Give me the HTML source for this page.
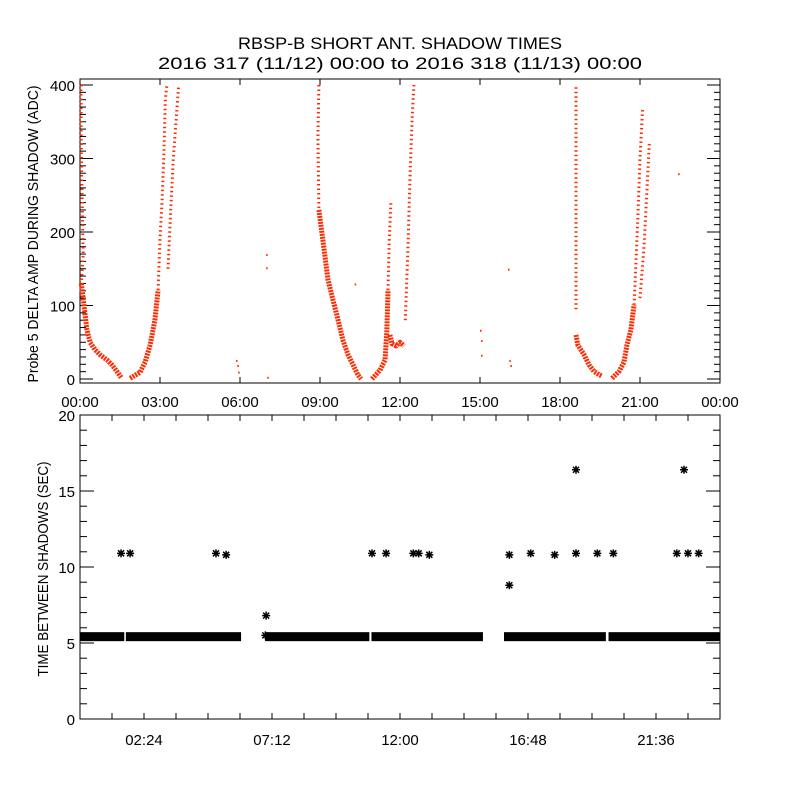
<!DOCTYPE html>
<html><head><meta charset="utf-8"><style>
body{margin:0;background:#fff;}
svg{display:block;font-family:"Liberation Sans",sans-serif;}
</style></head><body>
<svg id="c" width="800" height="800" viewBox="0 0 800 800">
<rect width="800" height="800" fill="#fff"/>
<text x="400" y="49" text-anchor="middle" font-size="17" textLength="324" lengthAdjust="spacingAndGlyphs">RBSP-B SHORT ANT. SHADOW TIMES</text>
<text x="400" y="69" text-anchor="middle" font-size="17" textLength="484" lengthAdjust="spacingAndGlyphs">2016 317 (11/12) 00:00 to 2016 318 (11/13) 00:00</text>
<g id="topPanel"></g>
<g id="botPanel"></g>
</svg>
<script>
// ---- top panel data (hour, ADC) ----
const topDense = [
 [[0.05,130],[0.15,100],[0.26,67],[0.38,50],[0.56,40],[0.75,33],[1.01,26],[1.2,19],[1.39,10],[1.54,2]],
 [[1.88,1],[2.25,9],[2.44,23],[2.63,46],[2.81,80],[2.93,121]],
 [[8.96,230],[9.11,189],[9.3,135],[9.49,107],[9.68,80],[9.86,53],[10.05,33],[10.24,19],[10.43,5],[10.54,0]],
 [[10.95,0],[11.25,12],[11.44,26],[11.51,67],[11.55,121]],
 [[11.62,60],[11.7,48],[11.85,45],[12.0,50],[12.15,45]],
 [[18.6,60],[18.67,46],[18.9,33],[19.09,19],[19.28,10],[19.46,6],[19.58,4]],
 [[19.95,1],[20.21,10],[20.4,23],[20.51,46],[20.66,67],[20.78,101]]
];
const topSparse = [
 [[0.04,400],[0.04,330],[0.08,250],[0.1,200],[0.12,170],[0.05,130]],
 [[2.93,121],[3.0,190],[3.08,243],[3.15,310],[3.2,380],[3.26,400]],
 [[3.3,150],[3.4,230],[3.5,300],[3.6,350],[3.7,400]],
 [[8.96,400],[8.92,330],[8.96,230]],
 [[11.55,121],[11.6,190],[11.66,240]],
 [[12.2,80],[12.3,180],[12.38,280],[12.45,350],[12.52,400]],
 [[20.78,101],[20.85,160],[20.93,230],[21.0,300],[21.1,370]],
 [[21.0,110],[21.15,180],[21.25,250],[21.35,320]],
 [[18.6,95],[18.6,200],[18.6,310],[18.6,400]]
];
const topDots = [[5.85,26],[5.9,19],[5.93,10],[6.98,170],[6.98,152],[7.02,3],[15.0,67],[15.04,53],[15.04,33],[16.05,150],[16.1,26],[16.14,19],[22.43,280],[10.3,130]];
// ---- bottom panel data ----
const bandValue = 5.45;
const bandStarts = [0.0, 1.72, 6.94, 10.93, 15.9, 19.82];
const bandEnds   = [1.66, 6.04, 10.85, 15.11, 19.72, 24.0];
const starHours  = [1.54,1.88,5.1,5.48,6.98,10.95,11.48,12.5,12.7,13.1,16.1,16.1,16.9,17.8,18.6,18.6,19.4,20.0,22.38,22.65,22.8,23.2,6.95];
const starValues = [10.9,10.9,10.9,10.8,6.8,10.9,10.9,10.9,10.9,10.8,10.8,8.8,10.9,10.8,10.9,16.4,10.9,10.9,10.9,16.4,10.9,10.9,5.5];
const topYTicks = [0,100,200,300,400];
const topXLabels = ["00:00","03:00","06:00","09:00","12:00","15:00","18:00","21:00","00:00"];
const botYTicks = [0,5,10,15,20];
const botXLabels = ["02:24","07:12","12:00","16:48","21:36"];

const NS="http://www.w3.org/2000/svg";
function mk(p,t,a){const e=document.createElementNS(NS,t);for(const k in a)e.setAttribute(k,a[k]);p.appendChild(e);return e;}
const L=80,R=720;
const xs=h=>L+(R-L)*h/24;
const T0=79,T1=383;
const ty=v=>379-v*0.735;
const topG=document.getElementById('topPanel');
const f1=mk(topG,'rect',{x:L,y:T0,width:R-L,height:T1-T0,fill:'none',stroke:'#000','stroke-width':1});


for(let v=0;v<=400;v+=10){const y=ty(v);const mj=v%100===0;
 mk(topG,'line',{x1:L,x2:L+(mj?13:6),y1:y,y2:y,stroke:'#000'});
 mk(topG,'line',{x1:R,x2:R-(mj?13:6),y1:y,y2:y,stroke:'#000'});}
topYTicks.forEach(v=>{const t=mk(topG,'text',{x:L-5,y:ty(v)+6,'text-anchor':'end','font-size':15});t.textContent=v;
 
 });
topXLabels.forEach((s,i)=>{const x=xs(i*3);
 mk(topG,'line',{x1:x,x2:x,y1:T1,y2:T1-6,stroke:'#000'});mk(topG,'line',{x1:x,x2:x,y1:T0,y2:T0+6,stroke:'#000'});
 const t=mk(topG,'text',{x:x,y:407,'text-anchor':'middle','font-size':15});t.textContent=s;
 
 });
const yl=mk(topG,'text',{x:0,y:0,'text-anchor':'middle','font-size':15,textLength:297,lengthAdjust:'spacingAndGlyphs',transform:'translate(38,234) rotate(-90)'});
yl.textContent='Probe 5 DELTA AMP DURING SHADOW (ADC)';


const pts=a=>a.map(p=>xs(p[0]).toFixed(1)+','+ty(p[1]).toFixed(1)).join(' ');
topDense.forEach(b=>{const e=mk(topG,'polyline',{points:pts(b),fill:'none',stroke:'#ff2a00','stroke-width':5,'stroke-linejoin':'round','stroke-dasharray':'2 1'});
 
 });
topSparse.forEach(b=>{const e=mk(topG,'polyline',{points:pts(b),fill:'none',stroke:'#ff2a00','stroke-width':3,'stroke-dasharray':'1.5 3'});
 
 });
topDots.forEach(p=>{const e=mk(topG,'rect',{x:xs(p[0]),y:ty(p[1]),width:1.5,height:2,fill:'#ff2a00'});
 
 });
// bottom axes
const B0=415,B1=719;
const by=v=>B1-(B1-B0)*v/20;
const botG=document.getElementById('botPanel');
const f2=mk(botG,'rect',{x:L,y:B0,width:R-L,height:B1-B0,fill:'none',stroke:'#000'});


for(let v=0;v<=20;v++){const y=by(v);const mj=v%5===0;
 mk(botG,'line',{x1:L,x2:L+(mj?14:7),y1:y,y2:y,stroke:'#000'});
 mk(botG,'line',{x1:R,x2:R-(mj?14:7),y1:y,y2:y,stroke:'#000'});}
botYTicks.forEach(v=>{const t=mk(botG,'text',{x:L-5,y:by(v)+6,'text-anchor':'end','font-size':15});t.textContent=v;
 
 });
for(let h=0;h<=24.01;h+=1.2){const x=xs(h);mk(botG,'line',{x1:x,x2:x,y1:B1,y2:B1-6,stroke:'#000'});mk(botG,'line',{x1:x,x2:x,y1:B0,y2:B0+6,stroke:'#000'});}
botXLabels.forEach((s,i)=>{const t=mk(botG,'text',{x:xs((i+0.5)*4.8),y:745,'text-anchor':'middle','font-size':15});t.textContent=s;
 
 });
const yl2=mk(botG,'text',{x:0,y:0,'text-anchor':'middle','font-size':15,textLength:215,lengthAdjust:'spacingAndGlyphs',transform:'translate(48,569) rotate(-90)'});
yl2.textContent='TIME BETWEEN SHADOWS (SEC)';


bandStarts.forEach((s,i)=>{const e=mk(botG,'rect',{x:xs(s),y:by(bandValue)-4,width:xs(bandEnds[i])-xs(s),height:9,fill:'#000'});
 
 });
starHours.forEach((h,i)=>{const x=xs(h),y=by(starValues[i]);
 const g=mk(botG,'path',{d:`M${x-4},${y}H${x+4}M${x},${y-4}V${y+4}M${x-3},${y-3}L${x+3},${y+3}M${x-3},${y+3}L${x+3},${y-3}`,stroke:'#000','stroke-width':1.5});
 
 });
</script>
</body></html>
